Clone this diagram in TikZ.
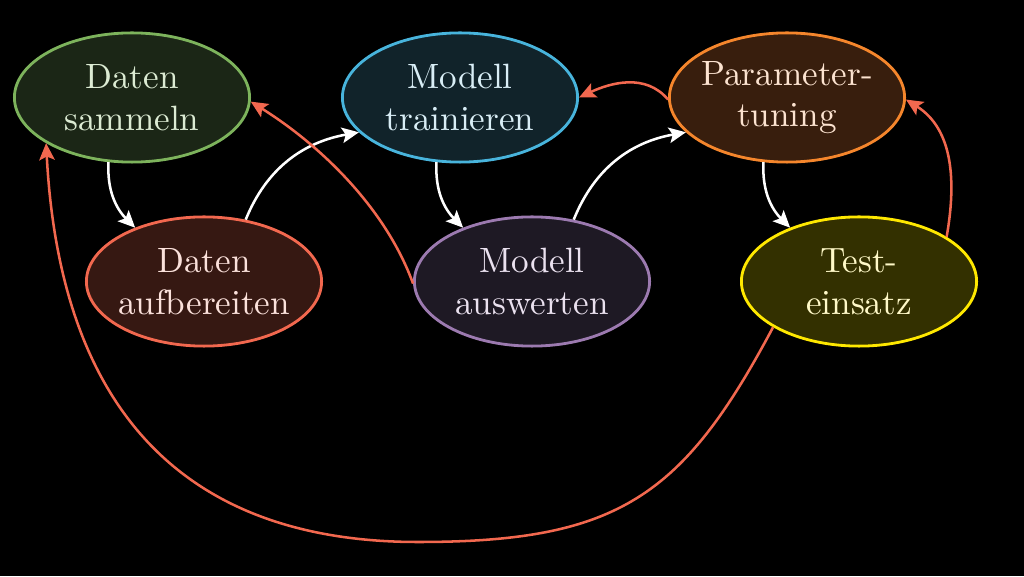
\documentclass[tikz,border=0pt]{standalone}
\usepackage{fontspec}
\newfontfamily\lmten{lmroman10-regular}[Extension=.otf]
\usetikzlibrary{shapes.geometric,arrows.meta}
\definecolor{redarrow}{HTML}{F2684F}
\definecolor{samB}{HTML}{7DB35C}\definecolor{samF}{HTML}{1B2616}\definecolor{samT}{HTML}{DCEBD3}
\definecolor{aufB}{HTML}{F2684F}\definecolor{aufF}{HTML}{361812}\definecolor{aufT}{HTML}{FBE1DB}
\definecolor{traB}{HTML}{48B4DC}\definecolor{traF}{HTML}{11232A}\definecolor{traT}{HTML}{D9EEF6}
\definecolor{ausB}{HTML}{9C7AB0}\definecolor{ausF}{HTML}{1E1924}\definecolor{ausT}{HTML}{EAE1EF}
\definecolor{parB}{HTML}{F5862C}\definecolor{parF}{HTML}{381E0D}\definecolor{parT}{HTML}{FCE3D0}
\definecolor{tesB}{HTML}{FFE800}\definecolor{tesF}{HTML}{333000}\definecolor{tesT}{HTML}{FFF9C8}
\begin{document}
\begin{tikzpicture}[
  stage/.style={ellipse, line width=2pt, minimum width=5.88cm, minimum height=3.23cm,
    inner xsep=-1.5cm, inner ysep=0pt, align=center, font=\lmten\fontsize{25}{29.6}\selectfont},
  flow/.style={-{Stealth[length=12pt,width=11pt,inset=2.5pt]}, line width=1.8pt, draw=white, fill=none},
  back/.style={flow, draw=redarrow},
]
\fill[black] (0,0) rectangle (25.6,14.4);
\useasboundingbox (0,0) rectangle (25.6,14.4);

\node[stage, draw=samB, fill=samF, text=samT] (sam) at (3.3,11.9625) {Daten\\sammeln};
\node[stage, draw=aufB, fill=aufF, text=aufT] (auf) at (5.1,7.3625) {Daten\\aufbereiten};
\node[stage, draw=traB, fill=traF, text=traT] (tra) at (11.5,11.9625) {Modell\\trainieren};
\node[stage, draw=ausB, fill=ausF, text=ausT] (aus) at (13.3,7.3625) {Modell\\auswerten};
\node[stage, draw=parB, fill=parF, text=parT] (par) at (19.675,11.9625) {Parameter-\\tuning};
\node[stage, draw=tesB, fill=tesF, text=tesT] (tes) at (21.475,7.3625) {Test-\\einsatz};

% forward flow (white)
\draw[flow] (sam.-110) to[out=-93, in=135, looseness=1.0] (auf.142);
\draw[flow] (auf.56) to[out=68, in=190, looseness=1.0] (tra.199);
\draw[flow] (tra.-110) to[out=-93, in=135, looseness=1.0] (aus.142);
\draw[flow] (aus.56) to[out=68, in=190, looseness=1.0] (par.199);
\draw[flow] (par.-110) to[out=-93, in=135, looseness=1.0] (tes.142);

% feedback (red)
\draw[back] (tes.27) to[out=80, in=-32] (par.-1);
\draw[back] (par.181) to[out=130, in=25] (tra.0);
\draw[back] (aus.181) to[out=110, in=-32, looseness=0.85] (sam.-2);
\coordinate (bot) at (10.45,0.85);
\draw[back] (tes.208) .. controls +(242:4.8) and +(0:5) .. (bot)
  .. controls +(180:6) and +(-87:6.5) .. (sam.208);
\end{tikzpicture}
\end{document}
